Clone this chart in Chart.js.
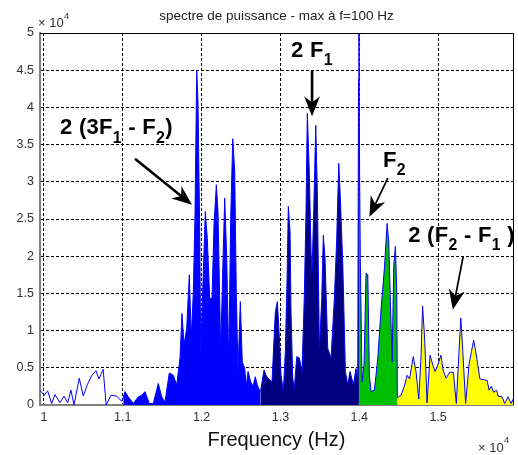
<!DOCTYPE html>
<html>
<head>
<meta charset="utf-8">
<title>spectre de puissance</title>
<script src="https://cdn.jsdelivr.net/npm/chart.js@4/dist/chart.umd.min.js"></script>
<style>
  html, body { margin: 0; padding: 0; background: #fff; }
  #wrap { width: 518px; height: 455px; }
</style>
</head>
<body>
<div id="wrap"><canvas id="spectre" width="518" height="455"></canvas></div>
<script>
// spectre de puissance : frequence (Hz) / puissance
var freq = [
  9949, 10004, 10047, 10098, 10140, 10203, 10254, 10301, 10343, 10381,
  10448, 10499, 10549, 10603, 10660, 10698, 10751, 10789, 10850, 10923,
  10986, 11006, 11028, 11070, 11133, 11197, 11240, 11282, 11336, 11387,
  11450, 11494, 11535, 11590, 11641, 11684, 11726, 11751, 11777, 11811,
  11844, 11869, 11895, 11916, 11938, 11954, 11976, 11989, 12018, 12047,
  12072, 12103, 12132, 12157, 12187, 12208, 12242, 12272, 12293, 12319,
  12344, 12369, 12395, 12420, 12440, 12462, 12491, 12516, 12547, 12567,
  12589, 12623, 12652, 12681, 12707, 12741, 12750, 12792, 12817, 12843,
  12893, 12935, 12961, 12991, 13008, 13037, 13062, 13084, 13100, 13122,
  13134, 13156, 13176, 13207, 13240, 13274, 13303, 13325, 13341, 13367,
  13388, 13401, 13423, 13448, 13468, 13494, 13524, 13544, 13566, 13600,
  13642, 13684, 13714, 13740, 13760, 13791, 13824, 13854, 13883, 13925,
  13959, 13981, 13990, 13996, 14004, 14013, 14035, 14061, 14086, 14108,
  14128, 14150, 14192, 14235, 14277, 14319, 14353, 14374, 14395, 14416,
  14438, 14458, 14476, 14483, 14530, 14577, 14606, 14638, 14685, 14721,
  14755, 14784, 14803, 14829, 14860, 14898, 14930, 14962, 14991, 15036,
  15063, 15102, 15146, 15193, 15231, 15263, 15288, 15313, 15349, 15393,
  15423, 15451, 15485, 15530, 15584, 15622, 15647, 15676, 15704, 15742,
  15761, 15812, 15844, 15888, 15926, 15952
];
var power = [
  2000, 1300, 1900, 200, 1400, 300, 1200, 300, 2000, 0,
  3600, 1200, 2700, 3900, 4600, 3500, 4800, 0, 1300, 1200,
  500, 1000, 1800, 1100, 200, 1100, 1300, 1800, 200, 200,
  2900, 1100, 400, 4300, 4000, 2700, 6300, 12300, 8100, 10300,
  17500, 9000, 15200, 25500, 45000, 40800, 23300, 6300, 16600, 26000,
  22400, 14300, 14300, 24200, 29600, 26000, 7200, 19700, 27800, 19700,
  5800, 25100, 35800, 31400, 15200, 4500, 13900, 5800, 4900, 2500,
  4500, 3100, 2500, 3800, 2700, 1800, 2000, 4700, 4000, 3600,
  3100, 12500, 13900, 8100, 4000, 1800, 7200, 17000, 26700, 23300,
  12500, 3600, 2200, 6500, 6300, 4500, 14800, 26400, 39200, 30900,
  20600, 17900, 26400, 37600, 28700, 7600, 14300, 22800, 19700, 7600,
  6300, 14300, 22400, 32500, 27800, 18800, 4500, 2700, 4500, 2700,
  4900, 3600, 43700, 50000, 31600, 19700, 3100, 5500, 17700, 17500,
  4000, 1800, 2000, 6300, 13000, 18400, 24400, 21900, 13900, 5800,
  18800, 21300, 15200, 1000, 1300, 2700, 4000, 3500, 6500, 4400,
  800, 6700, 13300, 9000, 300, 6700, 5500, 4500, 5200, 6700,
  4700, 3600, 4400, 4400, 200, 6700, 11700, 7200, 200, 5500,
  7200, 8700, 6700, 3500, 3400, 3300, 2000, 2500, 1700, 2000,
  1200, 1100, 200, 1100, 200, 800
];
// bandes remplies (Hz) ; avant la premiere, trace seul
var bandStart = [11006, 12750, 13996, 14483];
var bandEnd = [12750, 13996, 14483, 15952];
var bandColors = ['#0000ff', '#000080', '#00bf00', '#ffff00'];

var freqTicks = [10000, 11000, 12000, 13000, 14000, 15000];
var powerTicks = [0, 5000, 10000, 15000, 20000, 25000, 30000, 35000, 40000, 45000, 50000];

// textes et fleches, positions en (Hz, puissance)
var labels = [
  { runs: [['2 (3F', 0], ['1', 1], [' - F', 0], ['2', 1], [')', 0]], f: 10203, p: 36400 },
  { runs: [['2 F', 0], ['1', 1]], f: 13134, p: 46800 },
  { runs: [['F', 0], ['2', 1]], f: 14302, p: 32000 },
  { runs: [['2 (F', 0], ['2', 1], [' - F', 0], ['1', 1], [' )', 0]], f: 14620, p: 21900 }
];
var arrows = [
  { f0: 11155, p0: 33100, f1: 11878, p1: 26900, lw: 2.6 },
  { f0: 13401, p0: 45000, f1: 13401, p1: 38800, lw: 2.6 },
  { f0: 14362, p0: 30500, f1: 14128, p1: 25300, lw: 1.7 },
  { f0: 15317, p0: 19900, f1: 15187, p1: 12800, lw: 1.7 }
];

var FONT = '"Liberation Sans", Arial, Helvetica, sans-serif';

var points = freq.map(function (f, i) { return { x: f, y: power[i] }; });

var datasets = [{
  label: 'spectre',
  data: points,
  borderColor: '#0000ff',
  borderWidth: 1,
  pointRadius: 0,
  fill: false,
  tension: 0
}];
bandStart.forEach(function (a, k) {
  var b = bandEnd[k];
  datasets.push({
    label: 'bande ' + (k + 1),
    data: points.filter(function (pt) { return pt.x >= a && pt.x <= b; }),
    backgroundColor: bandColors[k],
    borderColor: 'transparent',
    borderWidth: 0,
    pointRadius: 0,
    fill: 'origin',
    tension: 0
  });
});

function drawRuns(ctx, runs, x, y, size) {
  ctx.textAlign = 'left';
  ctx.textBaseline = 'alphabetic';
  ctx.letterSpacing = '0.3px';
  runs.forEach(function (r) {
    var sub = r[1];
    ctx.font = 'bold ' + (sub ? size * 0.72 : size) + 'px ' + FONT;
    ctx.fillText(r[0], x, sub ? y + size * 0.38 : y);
    x += ctx.measureText(r[0]).width;
  });
  ctx.letterSpacing = '0px';
}

function drawArrow(ctx, x0, y0, x1, y1, lw) {
  var a = Math.atan2(y1 - y0, x1 - x0);
  var ux = Math.cos(a), uy = Math.sin(a);
  var len = 20, w = 8;
  var bx = x1 - ux * len, by = y1 - uy * len;
  var nx = x1 - ux * len * 0.7, ny = y1 - uy * len * 0.7;
  ctx.strokeStyle = '#000';
  ctx.fillStyle = '#000';
  ctx.lineWidth = lw;
  ctx.beginPath();
  ctx.moveTo(x0, y0);
  ctx.lineTo(nx, ny);
  ctx.stroke();
  ctx.beginPath();
  ctx.moveTo(x1, y1);
  ctx.lineTo(bx - uy * w, by + ux * w);
  ctx.lineTo(nx, ny);
  ctx.lineTo(bx + uy * w, by - ux * w);
  ctx.closePath();
  ctx.fill();
}

var decor = {
  id: 'decor',
  afterDraw: function (chart) {
    var ctx = chart.ctx, area = chart.chartArea;
    var xs = chart.scales.x, ys = chart.scales.y;
    ctx.save();

    // cadre haut et droit
    ctx.strokeStyle = '#000';
    ctx.lineWidth = 1;
    ctx.beginPath();
    ctx.moveTo(area.left, area.top + 0.5);
    ctx.lineTo(area.right + 0.5, area.top + 0.5);
    ctx.lineTo(area.right + 0.5, area.bottom);
    ctx.stroke();

    // titre
    ctx.fillStyle = '#222';
    ctx.font = '13.5px ' + FONT;
    ctx.textAlign = 'center';
    ctx.textBaseline = 'alphabetic';
    ctx.fillText('spectre de puissance - max \u00e0 f=100 Hz', (area.left + area.right) / 2, 20);

    // facteurs d'echelle
    ctx.textAlign = 'left';
    ctx.fillStyle = '#333';
    ctx.font = '13px ' + FONT;
    ctx.fillText('\u00d7 10', 38, 27);
    ctx.fillText('\u00d7 10', 478, 452);
    ctx.font = '9.5px ' + FONT;
    ctx.fillText('4', 64, 19);
    ctx.fillText('4', 504, 443);

    // annotations
    ctx.fillStyle = '#000';
    labels.forEach(function (l) {
      drawRuns(ctx, l.runs, xs.getPixelForValue(l.f), ys.getPixelForValue(l.p), 22);
    });
    arrows.forEach(function (a) {
      drawArrow(ctx, xs.getPixelForValue(a.f0), ys.getPixelForValue(a.p0),
        xs.getPixelForValue(a.f1), ys.getPixelForValue(a.p1), a.lw);
    });
    ctx.restore();
  }
};

new Chart(document.getElementById('spectre'), {
  type: 'line',
  data: { datasets: datasets },
  options: {
    responsive: false,
    animation: false,
    devicePixelRatio: 1,
    layout: { padding: { top: 33, right: 5, left: 0, bottom: 0 } },
    plugins: { legend: { display: false }, tooltip: { enabled: false }, title: { display: false } },
    scales: {
      x: {
        type: 'linear',
        min: 9950,
        max: 15950,
        z: 1,
        afterBuildTicks: function (scale) {
          scale.ticks = freqTicks.map(function (v) { return { value: v }; });
        },
        afterFit: function (scale) { scale.height = 50; },
        grid: { color: '#000', lineWidth: 1, drawTicks: false },
        border: { display: true, color: '#808080', width: 2, dash: [3, 2] },
        ticks: {
          autoSkip: false,
          maxRotation: 0,
          padding: 5,
          color: '#333',
          font: { family: FONT, size: 12.5 },
          callback: function (v) { return String(v / 10000); }
        },
        title: {
          display: true,
          text: 'Frequency (Hz)',
          color: '#111',
          font: { family: FONT, size: 20 },
          padding: { top: 0, bottom: 3 }
        }
      },
      y: {
        type: 'linear',
        min: 0,
        max: 50000,
        z: 1,
        afterBuildTicks: function (scale) {
          scale.ticks = powerTicks.map(function (v) { return { value: v }; });
        },
        afterFit: function (scale) { scale.width = 40; },
        grid: { color: '#000', lineWidth: 1, drawTicks: false },
        border: { display: true, color: '#808080', width: 2, dash: [3, 2] },
        ticks: {
          autoSkip: false,
          padding: 6,
          color: '#333',
          font: { family: FONT, size: 12.5 },
          callback: function (v) { return String(v / 10000); }
        }
      }
    }
  },
  plugins: [decor]
});
</script>
</body>
</html>
